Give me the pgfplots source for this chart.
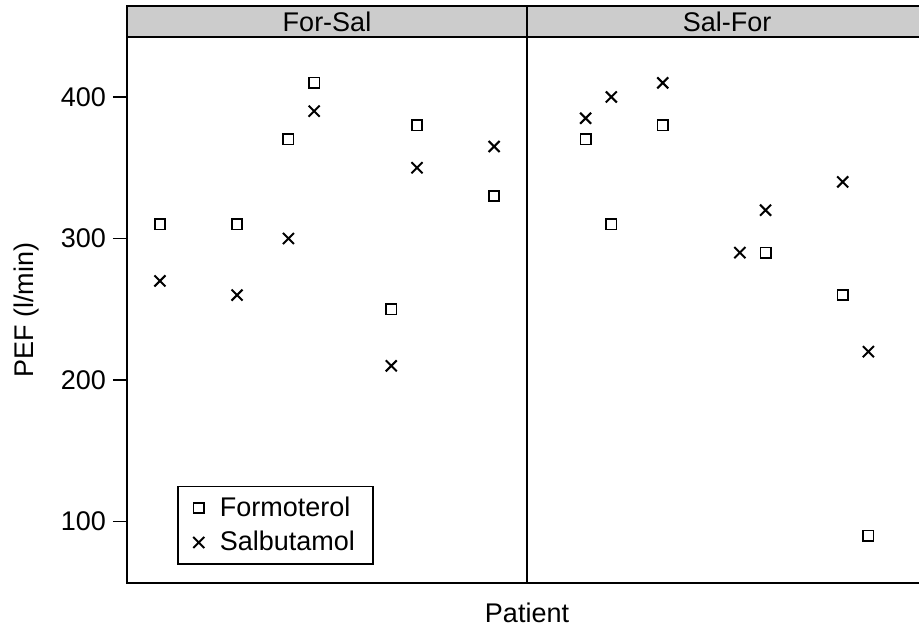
\documentclass[border=0pt]{standalone}
\usepackage{fontspec}
\setmainfont{Liberation Sans}
\usepackage{pgfplots}
\pgfplotsset{compat=1.18}

\definecolor{stripgray}{RGB}{204,204,204}

\pgfplotsset{
  panel/.style={
    scale only axis, width=200pt, height=273pt,
    xmin=-0.28, xmax=15.28, ymin=56.5, ymax=442.4,
    xtick=\empty,
    axis line style={line width=0.8pt},
    every tick/.style={black, line width=0.8pt},
    tick align=outside, major tick length=7pt,
    ticklabel style={font=\fontsize{13.5}{16}\selectfont},
    /pgf/number format/assume math mode=true,
    anchor=south west, clip=false,
  },
  mylegend/.style={legend image code/.code={\path (0pt,0pt) (16pt,0pt); \draw[##1] plot[only marks] coordinates {(8pt,0pt)};}},
  forpt/.style={only marks, mark=square, mark size=2.6pt, line width=0.85pt, black, mylegend},
  salpt/.style={only marks, mark=x, mark size=3.9pt, line width=1pt, black, mylegend},
}

\begin{document}
\begin{tikzpicture}
\path[use as bounding box] (0pt,0pt) rectangle (459.5pt,-314pt);

% strips
\draw[line width=0.8pt, fill=stripgray] (63.5pt,-3pt) rectangle (263.5pt,-18.5pt);
\draw[line width=0.8pt, fill=stripgray] (263.5pt,-3pt) rectangle (463.5pt,-18.5pt);
\node[font=\fontsize{13.5}{16}\selectfont] at (163.5pt,-10.9pt) {For-Sal};
\node[font=\fontsize{13.5}{16}\selectfont] at (363.5pt,-10.9pt) {Sal-For};

% For-Sal
\begin{axis}[panel, at={(63.5pt,-291.5pt)},
  ytick={100,200,300,400}, ytick pos=left,
  legend style={at={(0.125,0.178)}, anchor=north west, draw=black, line width=0.8pt,
    font=\fontsize{13.5}{16}\selectfont, inner xsep=2pt, inner ysep=3pt,
    row sep=2pt},
  legend cell align=left,
]
\addplot[forpt]
  coordinates {(1,310) (4,310) (6,370) (7,410) (10,250) (11,380) (14,330)};
\addlegendentry{Formoterol\hspace*{5pt}\mbox{}}
\addplot[salpt]
  coordinates {(1,270) (4,260) (6,300) (7,390) (10,210) (11,350) (14,365)};
\addlegendentry{Salbutamol\hspace*{5pt}\mbox{}}
\end{axis}

% Sal-For
\begin{axis}[panel, at={(263.5pt,-291.5pt)}, ytick=\empty]
\addplot[forpt] coordinates {(2,370) (3,310) (5,380) (9,290) (12,260) (13,90)};
\addplot[salpt] coordinates {(2,385) (3,400) (5,410) (8,290) (9,320) (12,340) (13,220)};
\end{axis}

\node[font=\fontsize{13.5}{16}\selectfont] at (263.5pt,-306.5pt) {Patient};
\node[font=\fontsize{13.5}{16}\selectfont, rotate=90] at (13.5pt,-155pt) {PEF (l/min)};
\end{tikzpicture}
\end{document}
